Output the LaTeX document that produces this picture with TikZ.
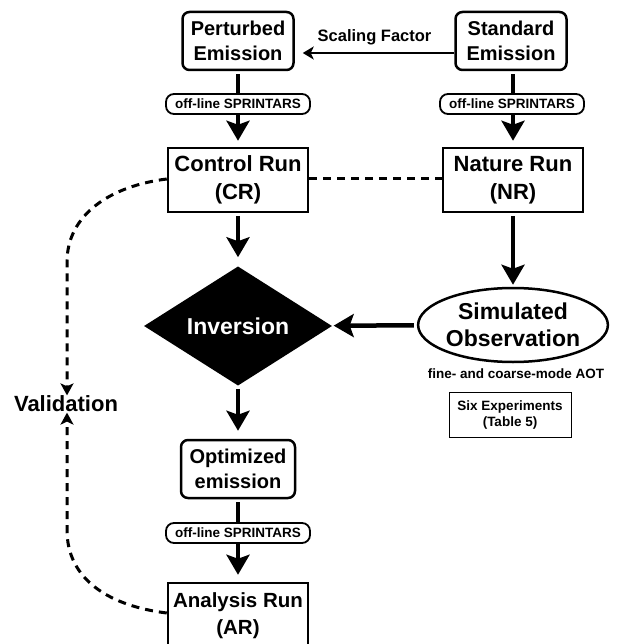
\documentclass[tikz,border=0pt]{standalone}
\usepackage{fontspec}
\setmainfont{Liberation Sans}
\usetikzlibrary{shapes.geometric,arrows.meta}
\begin{document}
\begin{tikzpicture}[x=1pt,y=-1pt,
  rbox/.style={draw, line width=2.5pt, rounded corners=7pt, minimum width=111pt, minimum height=58pt, align=center, inner sep=0pt, font=\fontsize{20}{25}\selectfont\bfseries},
  sbox/.style={draw, line width=2.5pt, minimum width=140pt, minimum height=64pt, align=center, inner sep=0pt, font=\fontsize{22}{28}\selectfont\bfseries},
  pill/.style={draw, line width=1.8pt, rounded corners=8pt, fill=white, minimum width=144pt, minimum height=20pt, inner sep=0pt, font=\fontsize{13.5}{15}\selectfont\bfseries},
  arr/.style={line width=4.5pt, shorten <=3pt, shorten >=6pt, -{Stealth[length=20pt,width=23pt,inset=4pt]}},
  dashline/.style={line width=3pt, dash pattern=on 8pt off 6pt},
  dtip/.style={-{Stealth[length=12pt,width=13pt,inset=3pt]}}
]
\useasboundingbox (0,0) rectangle (616,644);

\node[rbox] (pe) at (238,41) {Perturbed\\Emission};
\node[rbox] (se) at (511,41) {Standard\\Emission};
\node[sbox] (cr) at (238,180) {Control Run\\(CR)};
\node[sbox] (nr) at (513,180) {Nature Run\\(NR)};
\node[diamond, fill=black, minimum width=188pt, minimum height=88pt, inner sep=0pt, text=white, font=\fontsize{23}{26}\selectfont\bfseries] (inv) at (238,326) {Inversion};
\node[ellipse, draw, line width=2.5pt, minimum width=168pt, minimum height=74pt, inner sep=0pt, align=center, font=\fontsize{23}{27}\selectfont\bfseries] (so) at (513,325) {Simulated\\Observation};
\node[font=\fontsize{13.5}{15}\selectfont\bfseries] (aot) at (516,374) {fine- and coarse-mode AOT};
\node[draw, line width=1pt, minimum width=122pt, minimum height=45pt, inner sep=0pt, align=center, font=\fontsize{13.5}{16}\selectfont\bfseries] (six) at (510,415) {Six Experiments\\(Table 5)};
\node[font=\fontsize{22}{26}\selectfont\bfseries] (val) at (66,404) {Validation};
\node[rbox, minimum width=114pt] (oe) at (238,469) {Optimized\\emission};
\node[sbox, minimum height=66pt, font=\fontsize{20.5}{27}\selectfont\bfseries] (ar) at (238,616) {Analysis Run\\(AR)};

% connectors
\draw[line width=2.5pt, shorten >=8pt, -{Stealth[length=11pt,width=13pt,inset=3pt]}] (se.west |- 0,53) -- (pe.east |- 0,53)
  node[midway, above=3pt, font=\fontsize{16.5}{18}\selectfont\bfseries] (sf) {Scaling Factor};
\draw[arr] (pe) -- (cr);
\draw[arr] (se.south -| nr) -- (nr);
\node[pill] (p1) at (238,104) {off-line SPRINTARS};
\node[pill] (p2) at (512,104) {off-line SPRINTARS};
\draw[dashline] (cr.east |- 0,179) -- (nr.west |- 0,179);
\draw[arr, shorten >=9pt] (cr) -- (inv);
\draw[arr, shorten >=2pt] (nr) -- (so);
\draw[arr, shorten >=2pt] (so) -- (inv);
\draw[arr, shorten >=8pt] (inv) -- (oe);
\draw[arr, shorten >=7pt] (oe) -- (ar);
\node[pill] (p3) at (238,533) {off-line SPRINTARS};

\coordinate (c1) at (67,262);
\coordinate (c2) at (67,530);
\draw[dashline, dtip] (cr.west |- 0,179) .. controls (110,186) and (67,215) .. (c1) -- ([yshift=-3pt]val.north -| c1);
\draw[dashline, dtip] (ar.west |- 0,613) .. controls (110,606) and (67,580) .. (c2) -- ([yshift=3pt]val.south -| c2);
\end{tikzpicture}
\end{document}
